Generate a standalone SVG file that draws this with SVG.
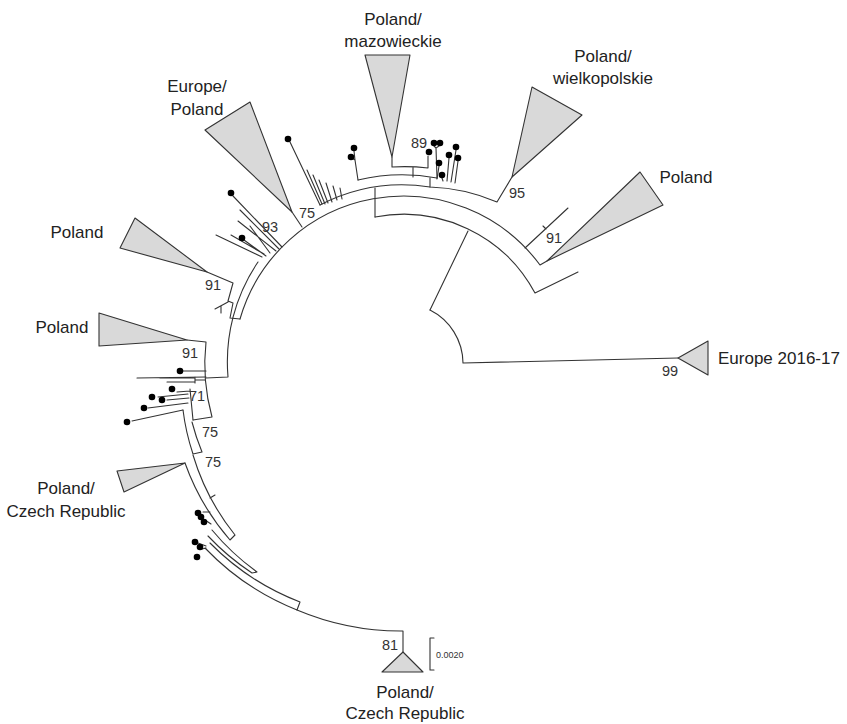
<svg xmlns="http://www.w3.org/2000/svg" width="847" height="724" viewBox="0 0 847 724">
<style>
.br{fill:none;stroke:#333;stroke-width:1.1;stroke-linecap:round;stroke-linejoin:round}
.cl{fill:#d9d9d9;stroke:#333;stroke-width:1.1;stroke-linejoin:round}
.dot{fill:#000}
.lab{font-family:"Liberation Sans",Arial,sans-serif;font-size:17px;fill:#222;text-anchor:middle}
.bs{font-family:"Liberation Sans",Arial,sans-serif;font-size:14.5px;fill:#333;text-anchor:middle}
.sc{font-family:"Liberation Sans",Arial,sans-serif;font-size:9px;fill:#333}
</style>
<rect width="847" height="724" fill="#fff"/>
<g id="connectors" class="br">
<path d="M430,310 A60,60 0 0 1 463,363 L678,358"/>
<path d="M430,310 L468,231"/>
<path d="M375,217 A149,149 0 0 1 535,293 L578,272"/>
<path d="M375,217 L375,188"/>
<path d="M240,319 A170,170 0 0 1 540,265 L547,261"/>
<path d="M525,248 L568,208 M543,226 L546,229"/>
<path d="M302,227 L292,212"/>
<path d="M320,205 A180,180 0 0 1 430,187 A185,185 0 0 1 497,202 L512,177"/>
<path d="M358,180 A188,188 0 0 1 437,178 M430,178 L430,187"/>
<path d="M358,180 L355,160 L352,158 M355,160 L354,151"/>
<path d="M392,157 L392,167 A197,197 0 0 1 428,168 L428,156 M413,167 L413,177"/>
<path d="M437,178 L436,148 M434,146 L436,148 L439,146"/>
<path d="M437,179 L439,166 M443,181 L442,178 M447,181 L449,158 M451,182 L456,150 M455,183 L458,161"/>
<path d="M320,205 L290,142 M322,204 L307,170 M325,204 L313,175 M328,203 L319,180 M332,202 L326,183 M337,200 L333,186 M342,199 L340,188"/>
<path d="M282,247 L233,196 M279,249 L240,210 M276,251 L238,221 M270,253 L250,226 M262,257 L216,235 M264,254 L231,235 M266,256 L244,240"/>
<path d="M258,262 A178,178 0 0 0 228,377 L206,378"/>
<path d="M207,272 L233,283 L228,301 L233,303 L230,318 L240,319 M228,302 L215,309 M221,306 L221,313"/>
<path d="M187,340 L206,342 A199,199 0 0 0 212,417 L193,420"/>
<path d="M206,371 L183,371 M206,377 L137,378 M205,380 L195,380 M195,377 L195,383 M195,378 L160,378 M195,382 L167,382"/>
<path d="M190,389 L193,420 M190,391 L177,392 M188,394 L158,397 M189,398 L167,400 M188,403 L148,408 M183,410 L132,421"/>
<path d="M183,410 A226,226 0 0 0 193,454 L202,452 A222,222 0 0 1 192,422"/>
<path d="M185,463 A240,240 0 0 0 230,540 L235,535 A236,236 0 0 1 193,455 M210,498 L215,495"/>
<path d="M208,536 A250,250 0 0 0 252,573 L257,572 A245,245 0 0 1 212,530 M203,512 L210,512 M205,520 L211,524"/>
<path d="M205,548 A260,260 0 0 0 297,610 L300,602 A255,255 0 0 1 210,543 M198,543 L206,546 M202,549 L206,548"/>
<path d="M297,610 A267,267 0 0 0 403,631 L403,652"/>
<path d="M434,638 L430,638 L430,670 L434,670"/>
</g>
<g id="clade-europe2016" ><polygon class="cl" points="678,358 708,341 708,375"/><text class="lab" x="718" y="364" style="text-anchor:start">Europe 2016-17</text><text class="bs" x="670" y="376">99</text></g>
<g id="clade-mazowieckie"><polygon class="cl" points="365,55 410,55 392,157"/><text class="lab" x="393" y="25">Poland/</text><text class="lab" x="393" y="47">mazowieckie</text><text class="bs" x="419" y="148">89</text></g>
<g id="clade-wielkopolskie"><polygon class="cl" points="532,87 582,115 512,177"/><text class="lab" x="603" y="62">Poland/</text><text class="lab" x="603" y="84">wielkopolskie</text><text class="bs" x="517" y="198">95</text></g>
<g id="clade-poland-right"><polygon class="cl" points="547,261 640,172 663,205"/><text class="lab" x="686" y="183">Poland</text><text class="bs" x="554" y="243">91</text></g>
<g id="clade-europe-poland"><polygon class="cl" points="205,130 250,102 292,212"/><text class="lab" x="197" y="92">Europe/</text><text class="lab" x="197" y="115">Poland</text><text class="bs" x="307" y="218">75</text><text class="bs" x="270" y="232">93</text></g>
<g id="clade-poland-left1"><polygon class="cl" points="135,218 120,248 207,272"/><text class="lab" x="77" y="238">Poland</text><text class="bs" x="213" y="290">91</text></g>
<g id="clade-poland-left2"><polygon class="cl" points="99,313 99,346 187,340"/><text class="lab" x="62" y="333">Poland</text><text class="bs" x="190" y="358">91</text><text class="bs" x="197" y="401">71</text><text class="bs" x="210" y="437">75</text></g>
<g id="clade-czech-left"><polygon class="cl" points="117,471 124,492 185,463"/><text class="lab" x="66" y="494">Poland/</text><text class="lab" x="66" y="517">Czech Republic</text><text class="bs" x="213" y="467">75</text></g>
<g id="clade-czech-bottom"><polygon class="cl" points="403,652 382,672 423,672"/><text class="lab" x="405" y="698">Poland/</text><text class="lab" x="405" y="719">Czech Republic</text><text class="bs" x="390" y="650">81</text><text class="sc" x="436" y="658">0.0020</text></g>
<g id="leaves">
<circle class="dot" cx="354" cy="148" r="3.3"/><circle class="dot" cx="351" cy="157" r="3.3"/>
<circle class="dot" cx="429" cy="152" r="3.3"/><circle class="dot" cx="434" cy="143" r="3.3"/><circle class="dot" cx="440" cy="143" r="3.3"/>
<circle class="dot" cx="439" cy="163" r="3.3"/><circle class="dot" cx="442" cy="175" r="3.3"/><circle class="dot" cx="449" cy="155" r="3.3"/><circle class="dot" cx="456" cy="147" r="3.3"/><circle class="dot" cx="458" cy="158" r="3.3"/>
<circle class="dot" cx="288" cy="139" r="3.3"/><circle class="dot" cx="231" cy="193" r="3.3"/><circle class="dot" cx="242" cy="238" r="3.3"/>
<circle class="dot" cx="180" cy="371" r="3.3"/><circle class="dot" cx="172" cy="389" r="3.3"/><circle class="dot" cx="152" cy="397" r="3.3"/><circle class="dot" cx="162" cy="400" r="3.3"/><circle class="dot" cx="144" cy="408" r="3.3"/><circle class="dot" cx="127" cy="422" r="3.3"/>
<circle class="dot" cx="198" cy="513" r="3.3"/><circle class="dot" cx="201" cy="517" r="3.3"/><circle class="dot" cx="204" cy="522" r="3.3"/><circle class="dot" cx="195" cy="542" r="3.3"/><circle class="dot" cx="200" cy="547" r="3.3"/><circle class="dot" cx="197" cy="557" r="3.3"/>
</g>
</svg>
